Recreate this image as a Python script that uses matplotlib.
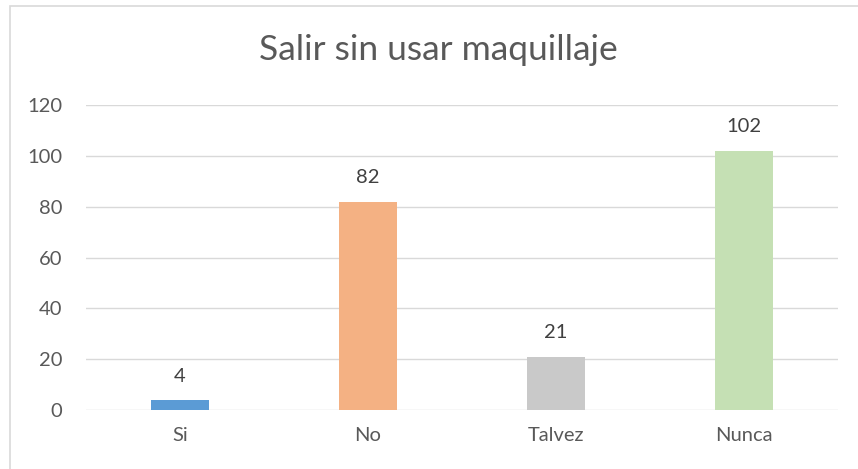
import matplotlib
matplotlib.use("Agg")
import matplotlib.pyplot as plt
from matplotlib.patches import Rectangle

categories = ["Si", "No", "Talvez", "Nunca"]
values = [4, 82, 21, 102]
colors = ["#5B9BD5", "#F4B183", "#C9C9C9", "#C5E0B4"]
title = "Salir sin usar maquillaje"
yticks = [0, 20, 40, 60, 80, 100, 120]

W, H = 858, 469
plt.rcParams['font.family'] = ['Lato', 'DejaVu Sans']
fig = plt.figure(figsize=(W / 100, H / 100), dpi=100)

# chart border (extends beyond right/bottom edges)
fig.patches.append(Rectangle((9.5 / W, -0.05), 1.1, 1.05 - 6.5 / H,
                             transform=fig.transFigure, fill=False,
                             edgecolor="#D9D9D9", linewidth=1.2))

left, right = 86 / W, 838 / W
bottom, top = 1 - 410 / H, 1 - 105 / H
ax = fig.add_axes([left, bottom, right - left, top - bottom])

x = range(len(categories))
ax.bar(x, values, width=0.31, color=colors, zorder=3)
for xi, v in zip(x, values):
    ax.text(xi, v + 6, str(v), ha="center", va="bottom", fontsize=14.5,
            color="#404040")

ax.set_xlim(-0.5, len(categories) - 0.5)
ax.set_ylim(0, 120)
ax.set_yticks(yticks)
ax.set_xticks(list(x))
ax.set_xticklabels(categories)
ax.grid(axis="y", color="#D9D9D9", linewidth=1, zorder=0)
for s in ax.spines.values():
    s.set_visible(False)
ax.tick_params(axis="both", length=0, labelsize=14.5, colors="#595959")
ax.tick_params(axis="y", pad=17)
ax.tick_params(axis="x", pad=12)

fig.text(438 / W, 1 - 50 / H, title, ha="center", va="center",
         fontsize=25.5, color="#595959")

fig.savefig("out.png", dpi=100)
